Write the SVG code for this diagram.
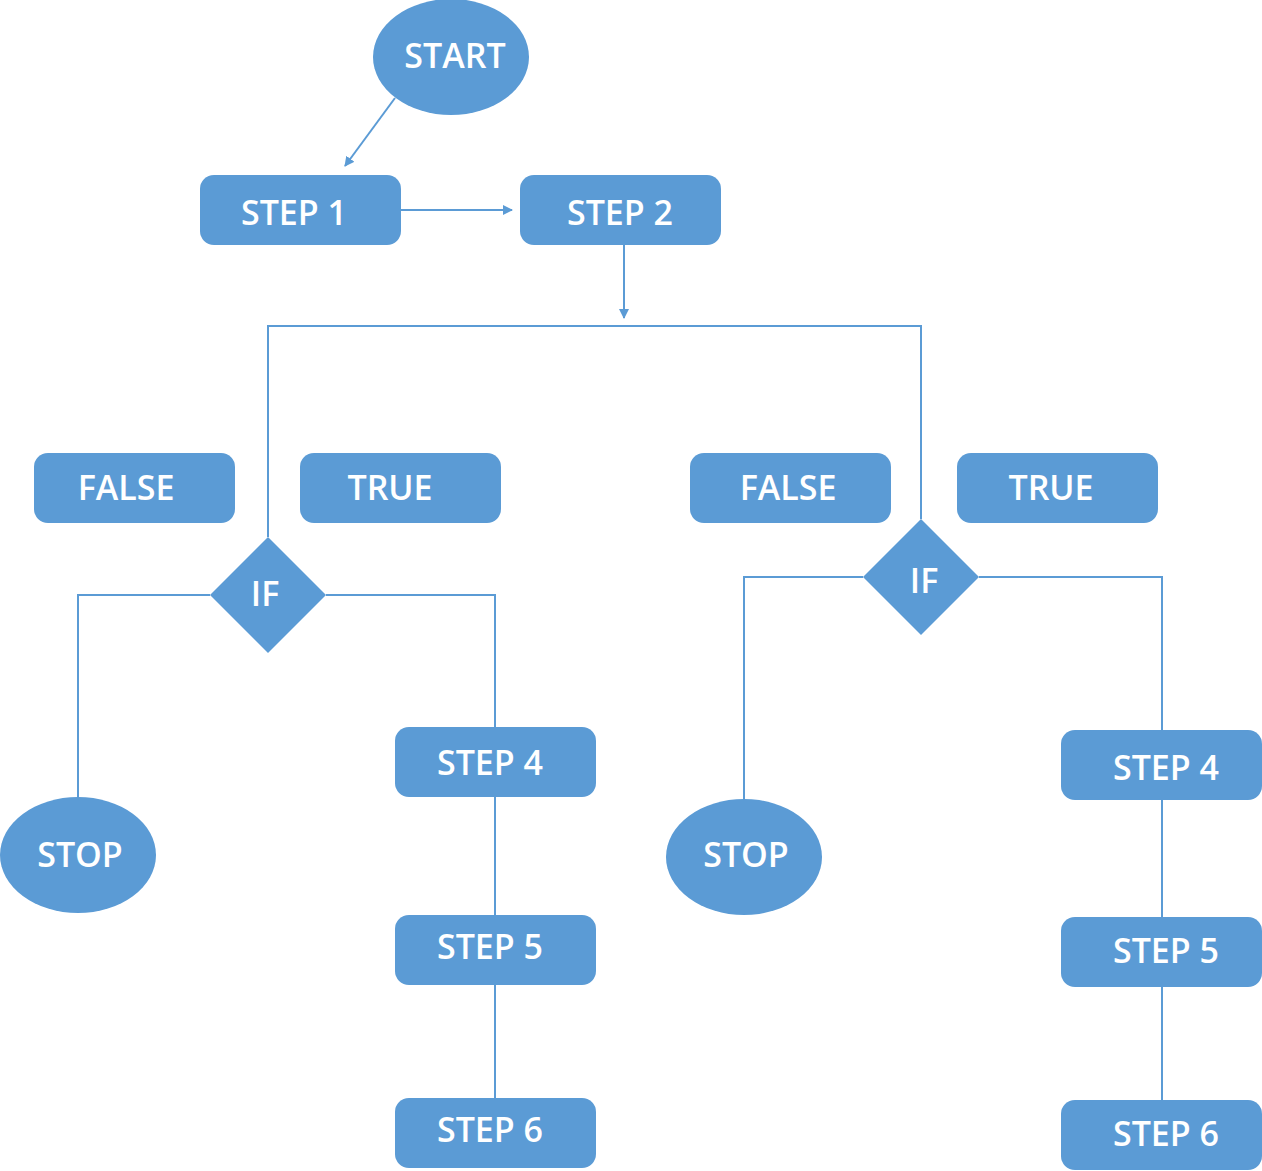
<svg xmlns="http://www.w3.org/2000/svg" width="1262" height="1171" viewBox="0 0 1262 1171">
<style>
.n{fill:#5B9BD5}
.t{fill:#fff;font-family:"Open Sans","Liberation Sans",sans-serif;font-weight:600;font-size:34px;text-anchor:middle;dominant-baseline:central}
.c{fill:none;stroke:#5B9BD5;stroke-width:2}
</style>
<defs><marker id="a" markerWidth="10" markerHeight="10" refX="9" refY="5" orient="auto" markerUnits="userSpaceOnUse"><path d="M0,0 L10,5 L0,10 z" fill="#5B9BD5"/></marker></defs>
<rect width="1262" height="1171" fill="#fff"/>
<g id="connectors">
<path class="c" d="M395,98 L345,166" marker-end="url(#a)"/>
<path class="c" d="M401,210 L512,210" marker-end="url(#a)"/>
<path class="c" d="M624,245 L624,318" marker-end="url(#a)"/>
<path class="c" d="M268,537 V326 H921 V519"/>
<path class="c" d="M210,595 H78 V798"/>
<path class="c" d="M326,595 H495 V1098"/>
<path class="c" d="M863,577 H744 V800"/>
<path class="c" d="M979,577 H1162 V1100"/>
</g>
<g id="start"><ellipse class="n" cx="451" cy="57" rx="78" ry="58"/><text class="t" x="455" y="55">START</text></g>
<g id="step1"><rect class="n" x="200" y="175" width="201" height="70" rx="14"/><text class="t" x="294" y="212">STEP 1</text></g>
<g id="step2"><rect class="n" x="520" y="175" width="201" height="70" rx="14"/><text class="t" x="620" y="212">STEP 2</text></g>
<g id="false1"><rect class="n" x="34" y="453" width="201" height="70" rx="14"/><text class="t" x="126" y="487">FALSE</text></g>
<g id="true1"><rect class="n" x="300" y="453" width="201" height="70" rx="14"/><text class="t" x="390" y="487">TRUE</text></g>
<g id="false2"><rect class="n" x="690" y="453" width="201" height="70" rx="14"/><text class="t" x="788" y="487">FALSE</text></g>
<g id="true2"><rect class="n" x="957" y="453" width="201" height="70" rx="14"/><text class="t" x="1051" y="487">TRUE</text></g>
<g id="if1"><path class="n" d="M268,537 L326,595 L268,653 L210,595 z"/><text class="t" x="265" y="593">IF</text></g>
<g id="if2"><path class="n" d="M921,519 L979,577 L921,635 L863,577 z"/><text class="t" x="924" y="580">IF</text></g>
<g id="stop1"><ellipse class="n" cx="78" cy="855" rx="78" ry="58"/><text class="t" x="80" y="854">STOP</text></g>
<g id="stop2"><ellipse class="n" cx="744" cy="857" rx="78" ry="58"/><text class="t" x="746" y="854">STOP</text></g>
<g id="l_step4"><rect class="n" x="395" y="727" width="201" height="70" rx="14"/><text class="t" x="490" y="762">STEP 4</text></g>
<g id="l_step5"><rect class="n" x="395" y="915" width="201" height="70" rx="14"/><text class="t" x="490" y="946">STEP 5</text></g>
<g id="l_step6"><rect class="n" x="395" y="1098" width="201" height="70" rx="14"/><text class="t" x="490" y="1129">STEP 6</text></g>
<g id="r_step4"><rect class="n" x="1061" y="730" width="201" height="70" rx="14"/><text class="t" x="1166" y="767">STEP 4</text></g>
<g id="r_step5"><rect class="n" x="1061" y="917" width="201" height="70" rx="14"/><text class="t" x="1166" y="950">STEP 5</text></g>
<g id="r_step6"><rect class="n" x="1061" y="1100" width="201" height="70" rx="14"/><text class="t" x="1166" y="1133">STEP 6</text></g>
</svg>
